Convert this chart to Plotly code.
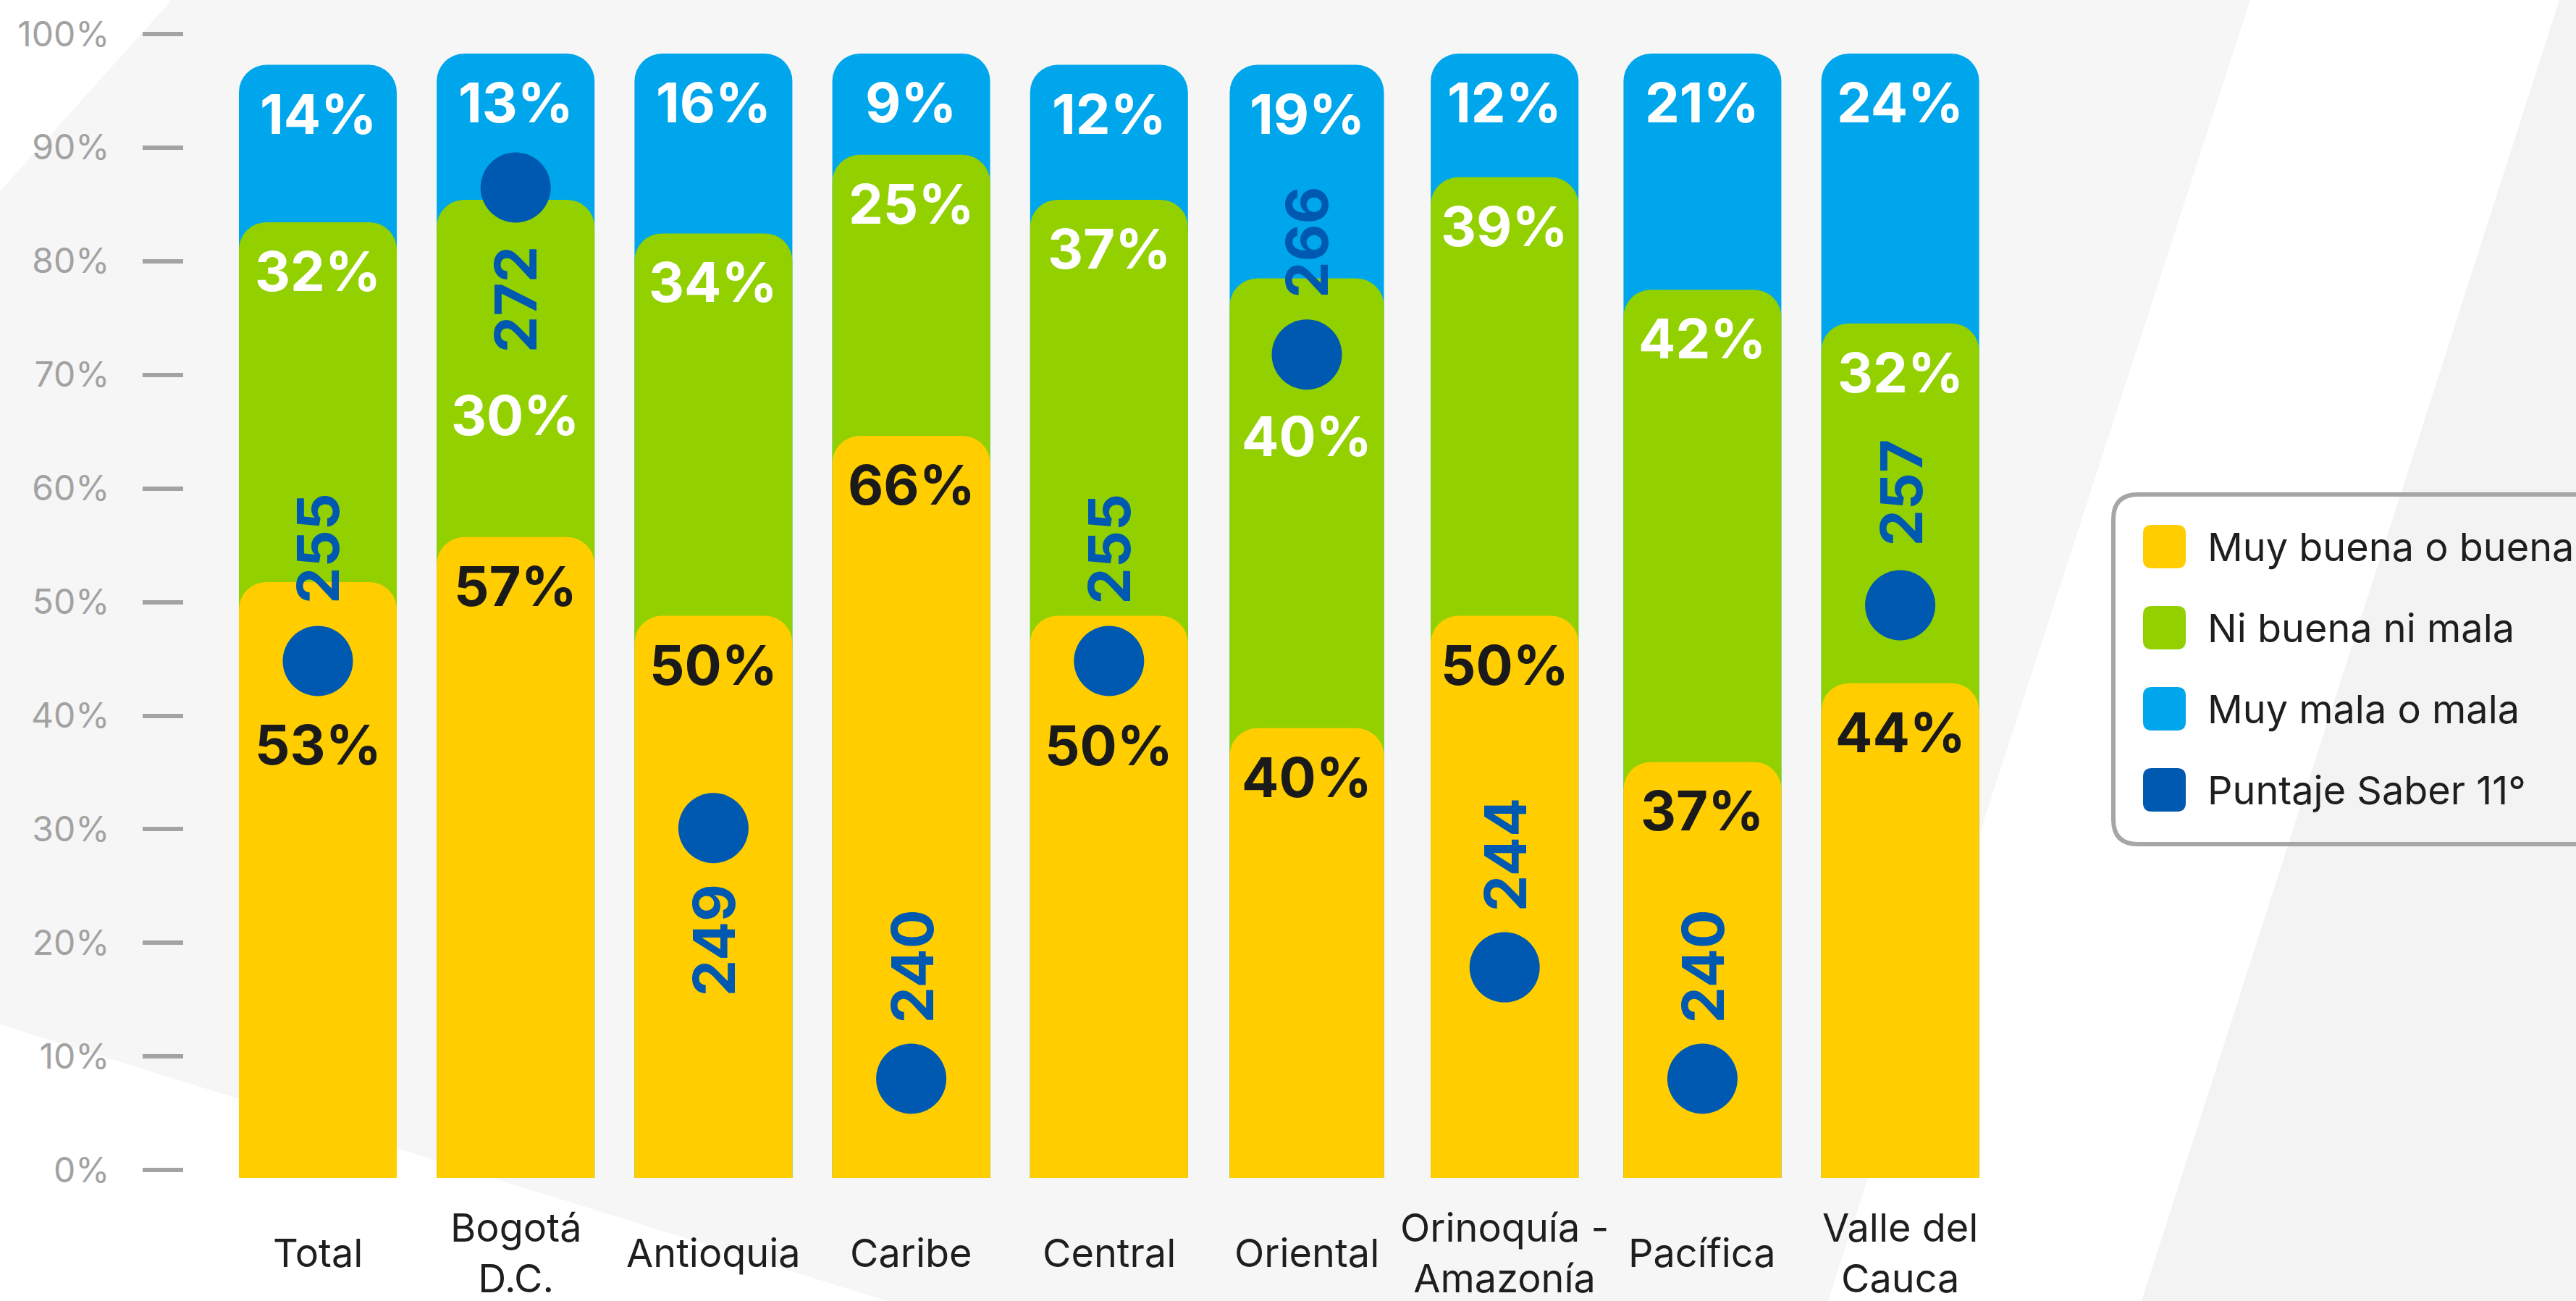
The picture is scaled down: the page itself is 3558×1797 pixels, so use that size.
import numpy as np
import plotly.graph_objects as go

# ---------------- data ----------------
categories = ["Total", "Bogotá D.C.", "Antioquia", "Caribe", "Central",
              "Oriental", "Orinoquía - Amazonía", "Pacífica", "Valle del Cauca"]
category_labels = ["Total", "Bogotá<br>D.C.", "Antioquia", "Caribe", "Central",
                   "Oriental", "Orinoquía -<br>Amazonía", "Pacífica", "Valle del<br>Cauca"]
muy_buena = [53, 57, 50, 66, 50, 40, 50, 37, 44]
ni_buena_ni_mala = [32, 30, 34, 25, 37, 40, 39, 42, 32]
muy_mala = [14, 13, 16, 9, 12, 19, 12, 21, 24]
puntaje_saber = [255, 272, 249, 240, 255, 266, 244, 240, 257]
series_names = ["Muy buena o buena", "Ni buena ni mala", "Muy mala o mala", "Puntaje Saber 11°"]
tick_values = [0, 10, 20, 30, 40, 50, 60, 70, 80, 90, 100]
tick_labels = ["0%", "10%", "20%", "30%", "40%", "50%", "60%", "70%", "80%", "90%", "100%"]

# ---------------- styles ----------------
YELLOW, GREEN, LIGHTBLUE, DARKBLUE = "#FFCD00", "#92D000", "#00A6EC", "#0059B0"
series_colors = [YELLOW, GREEN, LIGHTBLUE, DARKBLUE]
bar_widths = [0.798, 0.798, 0.798, 0.798, 0.798, 0.78, 0.747, 0.798, 0.798]
FONT = "Inter"

W, H = 3558, 1797
L, R, T, B = 254, 2761, 30, 1627  # plot area in pixels
STEP, C0 = 273.2, 439.0           # category spacing / first center (px)


def pp(x, y):
    return (x - L) / (R - L), (B - y) / (B - T)


def poly_path(points):
    s = ""
    for i, (x, y) in enumerate(points):
        px, py = pp(x, y)
        s += ("M" if i == 0 else "L") + f"{px:.5f},{py:.5f} "
    return s + "Z"


def rrect_path(x0, y0, x1, y1, r):
    def f(x, y):
        a, b = pp(x, y)
        return f"{a:.5f},{b:.5f}"
    return (f"M{f(x0 + r, y0)} L{f(x1 - r, y0)} Q{f(x1, y0)} {f(x1, y0 + r)} "
            f"L{f(x1, y1 - r)} Q{f(x1, y1)} {f(x1 - r, y1)} L{f(x0 + r, y1)} "
            f"Q{f(x0, y1)} {f(x0, y1 - r)} L{f(x0, y0 + r)} Q{f(x0, y0)} {f(x0 + r, y0)} Z")


# cumulative tops (stack drawn as overlapping rounded bars; chart caps at 100%)
top_yellow = np.array(muy_buena)
top_green = top_yellow + np.array(ni_buena_ni_mala)
top_blue = np.minimum(top_green + np.array(muy_mala), 100)

fig = go.Figure()
# invisible helper trace so the percent tick axis is drawn
fig.add_trace(go.Scatter(x=[categories[0]], y=[0], mode="markers",
                         marker=dict(opacity=0), showlegend=False, hoverinfo="skip"))
# each segment on its own overlaid y axis so every segment keeps rounded top corners
for vals, name, color, ax in [(top_blue, series_names[2], LIGHTBLUE, "y2"),
                              (top_green, series_names[1], GREEN, "y3"),
                              (top_yellow, series_names[0], YELLOW, "y4")]:
    fig.add_trace(go.Bar(
        x=categories, y=vals, name=name, width=bar_widths, yaxis=ax,
        marker=dict(color=color, cornerradius=38, line=dict(width=0)),
        opacity=1, showlegend=False, hoverinfo="skip"))

fig.add_trace(go.Scatter(
    x=categories, y=puntaje_saber, name=series_names[3], yaxis="y5",
    mode="markers", marker=dict(size=97, color=DARKBLUE, line=dict(width=0)),
    showlegend=False, hoverinfo="skip"))

annotations = []
# percent labels
default_shift = -67
overrides = {(0, 0): -224, (0, 4): -178, (1, 1): -297, (1, 5): -217}
for s, (vals, tops, col) in enumerate([(muy_buena, top_yellow, "#1A1A1A"),
                                       (ni_buena_ni_mala, top_green, "white"),
                                       (muy_mala, top_blue, "white")]):
    for i, cat in enumerate(categories):
        annotations.append(dict(
            x=cat, y=float(tops[i]), xref="x", yref="y2", text=f"{vals[i]}%",
            showarrow=False, xanchor="center", yanchor="middle",
            yshift=overrides.get((s, i), default_shift),
            font=dict(family=FONT, size=76, color=col, weight=700)))

# score labels
score_side = [1, -1, -1, 1, 1, 1, 1, 1, 1]
for i, cat in enumerate(categories):
    annotations.append(dict(
        x=cat, y=puntaje_saber[i], xref="x", yref="y5", text=str(puntaje_saber[i]),
        showarrow=False, textangle=-90, xanchor="center", yanchor="middle",
        yshift=155 * score_side[i],
        font=dict(family=FONT, size=80, color=DARKBLUE, weight=700)))

# category labels
for i, cat in enumerate(categories):
    annotations.append(dict(
        x=cat, y=pp(0, 1731)[1], xref="x", yref="paper", text=category_labels[i],
        showarrow=False, xanchor="center", yanchor="middle",
        font=dict(family=FONT, size=54, color="#1E1E1E")))

# background + legend (drawn manually)
shapes = [
    dict(type="path", path=poly_path([(0, 264), (237, 0), (3108, 0), (2525, 1797), (1225, 1797), (0, 1415)]),
         xref="paper", yref="paper", fillcolor="#F6F6F6", line=dict(width=0), layer="below"),
    dict(type="path", path=poly_path([(3535, 0), (3700, 0), (3700, 1797), (2958, 1797)]),
         xref="paper", yref="paper", fillcolor="#F3F3F3", line=dict(width=0), layer="below"),
    dict(type="path", path=rrect_path(2919, 683, 3700, 1166, 34),
         xref="paper", yref="paper", fillcolor="rgba(0,0,0,0)",
         line=dict(color="#A6A6A6", width=6), layer="above"),
]
for k, name in enumerate(series_names):
    cy = 755 + 112 * k
    shapes.append(dict(type="path", path=rrect_path(2960, cy - 30, 3019, cy + 30, 12),
                       xref="paper", yref="paper", fillcolor=series_colors[k],
                       line=dict(width=0), layer="above"))
    px, py = pp(3047, cy)
    annotations.append(dict(x=px, y=py, xref="paper", yref="paper", text=name,
                            showarrow=False, xanchor="left", yanchor="middle",
                            font=dict(family=FONT, size=54, color="#1E1E1E")))

# axis ranges (pixel calibrations)
y_bar_range = [0, (B - T) / 15.53]
y_score_range = [240 - (B - 1490) / 38.47, 240 + (1490 - T) / 38.47]
y_tick_range = [(1616.4 - B) / 15.697, (1616.4 - T) / 15.697]
x0 = -(C0 - L) / STEP
x_range = [x0, x0 + (R - L) / STEP]

hidden = dict(overlaying="y", visible=False, fixedrange=True)
fig.update_layout(
    width=W, height=H, margin=dict(l=L, r=W - R, t=T, b=H - B, pad=0),
    paper_bgcolor="white", plot_bgcolor="rgba(0,0,0,0)",
    barmode="overlay", showlegend=False,
    xaxis=dict(type="category", categoryorder="array", categoryarray=categories,
               range=x_range, showticklabels=False, showgrid=False, zeroline=False,
               showline=False, ticks="", fixedrange=True),
    yaxis=dict(range=y_tick_range, tickvals=tick_values, ticktext=tick_labels,
               ticks="outside", ticklen=56, tickwidth=6, tickcolor="#A3A3A3",
               ticklabelstandoff=36, showgrid=False, zeroline=False, showline=False,
               fixedrange=True, tickfont=dict(family=FONT, size=48, color="#A2A2A2")),
    yaxis2=dict(range=y_bar_range, **hidden),
    yaxis3=dict(range=y_bar_range, **hidden),
    yaxis4=dict(range=y_bar_range, **hidden),
    yaxis5=dict(range=y_score_range, **hidden),
    shapes=shapes, annotations=annotations,
)

fig.write_html("out.html", config={"displayModeBar": False},
               post_script="document.body.style.margin='0';document.body.style.overflow='hidden';")
